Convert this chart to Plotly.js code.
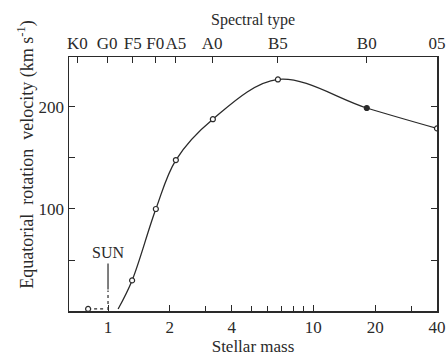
<!DOCTYPE html>
<html>
<head>
<meta charset="utf-8">
<script src="https://cdn.plot.ly/plotly-3.0.1.min.js"></script>
<style>html,body{margin:0;padding:0;background:#fff;}#chart{width:448px;height:358px;}</style>
</head>
<body>
<div id="chart"></div>
<script>
// Stellar mass (solar masses) and equatorial rotation velocity (km/s)
const massPoints = [1.31, 1.71, 2.14, 3.24, 6.72, 18.2, 40];
const velPoints  = [30, 100, 148, 188, 227, 199, 179];
const filledPoint = [false, false, false, false, false, true, false];
// smooth curve anchors (curve start + measured points)
const curveMass = [1.12, 1.31, 1.71, 2.14, 3.24, 6.72, 18.2, 40];
const curveVel  = [2, 30, 100, 148, 188, 227, 199, 179];
// low-mass (sun-like) point
const lowMass = [0.80, 0.97];
const lowVel = [2, 2];
// axes
const massTickVals = [1, 2, 4, 10, 20, 40];
const massTickText = ['1', '2', '4', '10', '20', '40'];
const massMinorVals = [3, 5, 6, 7, 8, 9, 30];
const velTickVals = [50, 100, 150, 200];
const velTickText = ['', '100', '', '200'];
const spectralMass = [0.71, 0.99, 1.32, 1.70, 2.14, 3.21, 6.72, 18.2, 40];
const spectralText = ['K0', 'G0', 'F5', 'F0', 'A5', 'A0', 'B5', 'B0', '05'];
const sunMass = 1;

const ink = '#2a2a2a';
const serif = 'Liberation Serif, Times New Roman, serif';
const xr = [-0.19, Math.log10(40)];

const traces = [
  {x: curveMass, y: curveVel, mode: 'lines', line: {shape: 'spline', smoothing: 1, color: ink, width: 1.3}, hoverinfo: 'skip', showlegend: false},
  {x: massPoints, y: velPoints, mode: 'markers', showlegend: false,
   marker: {size: 5, color: filledPoint.map(f => f ? ink : '#fff'), line: {color: ink, width: 1.2}}},
  {x: lowMass, y: lowVel, mode: 'lines', line: {color: ink, width: 1.2, dash: 'dot'}, showlegend: false},
  {x: [lowMass[0]], y: [lowVel[0]], mode: 'markers', marker: {size: 5, color: '#fff', line: {color: ink, width: 1.2}}, showlegend: false},
  {x: spectralMass, y: spectralMass.map(() => null), xaxis: 'x2', mode: 'markers', showlegend: false, hoverinfo: 'skip'}
];

const layout = {
  width: 448, height: 358,
  margin: {l: 69, r: 11, t: 57, b: 47},
  paper_bgcolor: '#fff', plot_bgcolor: '#fff',
  font: {family: serif, color: ink, size: 17},
  showlegend: false,
  xaxis: {
    type: 'log', range: xr, showgrid: false, zeroline: false,
    showline: true, linecolor: ink, linewidth: 1.5,
    ticks: 'inside', ticklen: 6, tickwidth: 1, tickcolor: ink,
    tickmode: 'array', tickvals: massTickVals, ticktext: massTickText,
    tickfont: {size: 17}, tickangle: 0,
    minor: {tickmode: 'array', tickvals: massMinorVals, ticks: 'inside', ticklen: 5, tickcolor: ink, showgrid: false},
    title: {text: 'Stellar mass', font: {size: 17}, standoff: 2}
  },
  xaxis2: {
    type: 'log', range: xr, overlaying: 'x', side: 'top', showgrid: false, zeroline: false,
    showline: true, linecolor: ink, linewidth: 1.5,
    ticks: 'inside', ticklen: 6, tickwidth: 1, tickcolor: ink,
    tickmode: 'array', tickvals: spectralMass, ticktext: spectralText,
    tickfont: {size: 17}, tickangle: 0,
    title: {text: 'Spectral type', font: {size: 16}, standoff: 4}
  },
  yaxis: {
    range: [0, 249], showgrid: false, zeroline: false,
    showline: true, linecolor: ink, linewidth: 1.5, mirror: 'ticks',
    ticks: 'inside', ticklen: 6, tickwidth: 1, tickcolor: ink,
    tickmode: 'array', tickvals: velTickVals, ticktext: velTickText,
    tickfont: {size: 17}
  },
  shapes: [
    {type: 'line', xref: 'x', yref: 'y', x0: sunMass, x1: sunMass, y0: 1, y1: 20, line: {color: ink, width: 1.2, dash: 'dot'}}
  ],
  annotations: [
    {xref: 'paper', yref: 'paper', x: -0.155, y: 0.615, text: 'Equatorial  rotation  velocity (km s<sup>-1</sup>)',
     textangle: -90, showarrow: false, font: {size: 18, family: serif, color: ink}},
    {xref: 'x', yref: 'y', x: Math.log10(sunMass), y: 21, ax: 0, ay: -37, text: 'SUN', showarrow: true,
     arrowhead: 0, arrowwidth: 1.2, arrowcolor: ink, standoff: 0, startstandoff: 1,
     font: {size: 16, family: serif, color: ink}}
  ]
};

Plotly.newPlot('chart', traces, layout, {staticPlot: true, displayModeBar: false});
</script>
</body>
</html>
